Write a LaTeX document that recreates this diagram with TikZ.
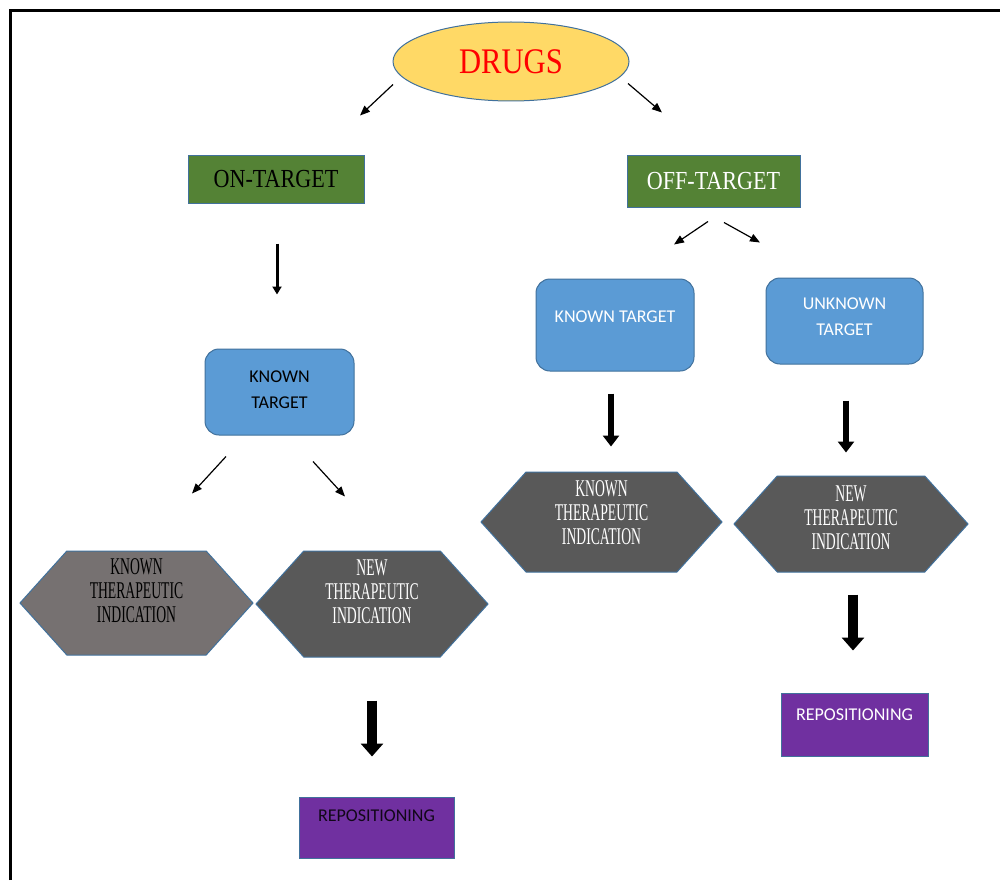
\documentclass[tikz,border=0pt]{standalone}
\usepackage{fontspec}
\setmainfont{Liberation Serif}
\newfontfamily\serifb{Liberation Serif}[FakeStretch=0.85]
\newfontfamily\serifc{Liberation Serif}[FakeStretch=0.57]
\newfontfamily\sanf{Carlito}
\usetikzlibrary{shapes.geometric,shapes.symbols,arrows.meta}
\definecolor{gold}{HTML}{FFD966}
\definecolor{edgeblue}{HTML}{41719C}
\definecolor{leaf}{HTML}{548235}
\definecolor{sky}{HTML}{5B9BD5}
\definecolor{greyA}{HTML}{767171}
\definecolor{greyB}{HTML}{595959}
\definecolor{purp}{HTML}{7030A0}
\newcommand\liftup[2]{\raisebox{#1}[\height][\depth]{\begin{tabular}{@{}c@{}}#2\end{tabular}}}
\begin{document}
\begin{tikzpicture}[x=1pt,y=-1pt,
  oval/.style={ellipse, draw=edgeblue, line width=1pt, fill=gold, inner sep=0pt,
    text=red, font=\serifb\fontsize{36}{36}\selectfont},
  greenbox/.style={rectangle, draw=edgeblue, line width=1pt, fill=leaf, inner sep=0pt,
    font=\serifb\fontsize{26}{26}\selectfont},
  bluebox/.style={rectangle, rounded corners=14pt, draw=edgeblue, line width=1pt, fill=sky,
    inner sep=0pt, font=\sanf\fontsize{18}{26.5}\selectfont},
  hexa/.style={signal, signal to=east and west, signal pointer angle=96, draw=edgeblue,
    line width=1pt, inner sep=0pt, font=\serifc\fontsize{24}{24}\selectfont},
  purplebox/.style={rectangle, draw=edgeblue, line width=1pt, fill=purp, inner sep=0pt,
    font=\sanf\fontsize{18}{18}\selectfont},
  thinarrow/.style={-{Triangle[length=10pt,width=8pt]}, line width=1.2pt},
  midarrow/.style={-{Triangle[length=8pt,width=9pt]}, line width=3pt},
  bigarrow/.style={-{Triangle[length=11pt,width=16pt]}, line width=6pt},
  hugearrow/.style={-{Triangle[length=13pt,width=22pt]}, line width=10pt}
]
\useasboundingbox (0,0) rectangle (1000,880);
\fill[white] (0,0) rectangle (1000,880);
\draw[line width=3pt] (10,880) -- (10,11) -- (1000,11);

\node[oval, minimum width=236pt, minimum height=79pt] (drugs) at (511,61.5) {DRUGS};
\node[greenbox, minimum width=176pt, minimum height=48pt] (on) at (276,179) {ON-TARGET};
\node[greenbox, minimum width=173pt, minimum height=52pt, text=white] (off) at (713.5,181) {OFF-TARGET};

\node[bluebox, minimum width=149pt, minimum height=86pt] (kt1) at (279.5,392) {\liftup{2pt}{KNOWN\\TARGET}};
\node[bluebox, minimum width=158pt, minimum height=92pt, text=white] (kt2) at (615,325) {\liftup{8pt}{KNOWN TARGET}};
\node[bluebox, minimum width=157pt, minimum height=86pt, text=white] (ut) at (844.5,321) {\liftup{4pt}{UNKNOWN\\TARGET}};

\node[hexa, fill=greyA, minimum width=233pt, minimum height=104pt] (kti1) at (136.5,603) {\liftup{9pt}{KNOWN\\THERAPEUTIC\\INDICATION}};
\node[hexa, fill=greyB, text=white, minimum width=232pt, minimum height=106pt] (nti1) at (372,604) {\liftup{9pt}{NEW\\THERAPEUTIC\\INDICATION}};
\node[hexa, fill=greyB, text=white, minimum width=241pt, minimum height=100pt] (kti2) at (601.5,522) {\liftup{6pt}{KNOWN\\THERAPEUTIC\\INDICATION}};
\node[hexa, fill=greyB, text=white, minimum width=234pt, minimum height=96pt] (nti2) at (851,524) {\liftup{3pt}{NEW\\THERAPEUTIC\\INDICATION}};

\node[purplebox, minimum width=155pt, minimum height=61pt, text=black!85!purp] (rep1) at (376.5,827.5) {\liftup{10pt}{REPOSITIONING}};
\node[purplebox, minimum width=147pt, minimum height=63pt, text=white] (rep2) at (854.5,724.5) {\liftup{8pt}{REPOSITIONING}};

% connectors
\draw[thinarrow] ([shift={(-118,23)}]drugs.center) -- ([shift={(84,-39)}]on.north);
\draw[thinarrow] ([shift={(117,22)}]drugs.center) -- ([shift={(-51.5,-42)}]off.north);
\draw[thinarrow] ([shift={(-5.5,14)}]off.south) -- ([shift={(59,-34)}]kt2.north);
\draw[thinarrow] ([shift={(10.5,15)}]off.south) -- ([shift={(-84.5,-35)}]ut.north);
\draw[thinarrow] ([shift={(-53.5,21)}]kt1.south) -- ([shift={(55.5,-57)}]kti1.north);
\draw[thinarrow] ([shift={(33.5,26)}]kt1.south) -- ([shift={(-27,-54)}]nti1.north);

\draw[midarrow, shorten <=40pt, shorten >=54pt] ([xshift=1pt]on.south) -- ([xshift=1pt]on.south |- kt1.north);
\draw[bigarrow, shorten <=22pt, shorten >=25pt] ([xshift=-4pt]kt2.south) -- ([xshift=-4pt]kt2.south |- kti2.north);
\draw[bigarrow, shorten <=36pt, shorten >=23pt] ([xshift=1.5pt]ut.south) -- ([xshift=1.5pt]ut.south |- nti2.north);
\draw[hugearrow, shorten <=43pt, shorten >=40pt] (nti1.south) -- (nti1.south |- rep1.north);
\draw[hugearrow, shorten <=22pt, shorten >=42pt] ([xshift=2pt]nti2.south) -- ([xshift=2pt]nti2.south |- rep2.north);
\end{tikzpicture}
\end{document}
